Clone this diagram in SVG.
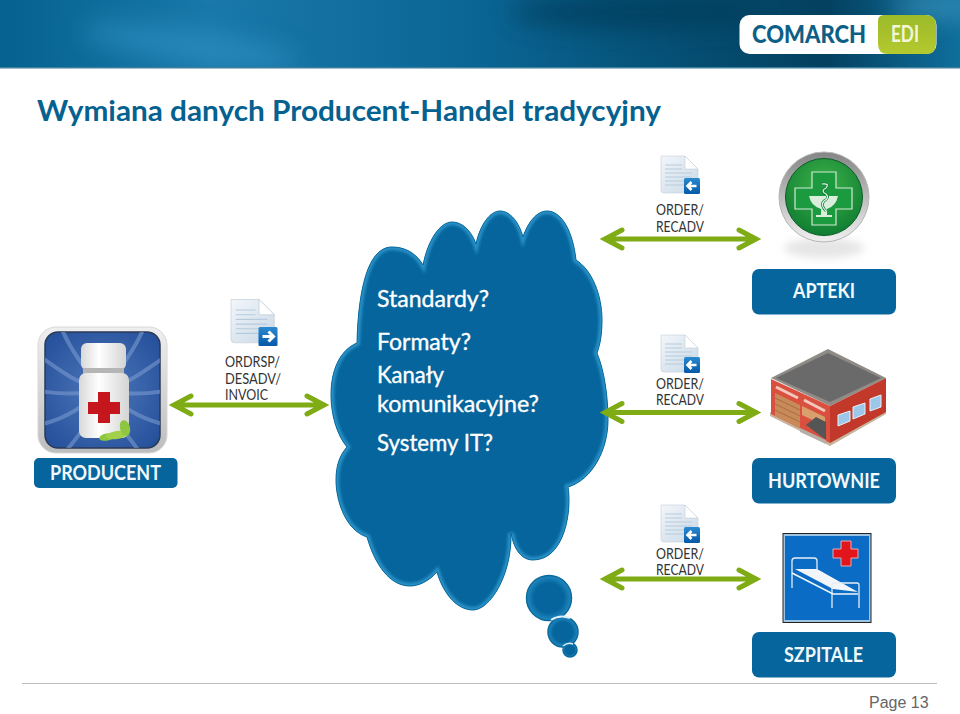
<svg xmlns="http://www.w3.org/2000/svg" xmlns:xlink="http://www.w3.org/1999/xlink" width="960" height="714" viewBox="0 0 960 714">
<style>
.t{font-family:Lato,"Noto Sans",sans-serif}
.lbl{font-size:14.5px;fill:#333}
.box{fill:#05659c}
.bt{font-weight:700;font-size:20.5px;fill:#f2f8fb}
.q{font-size:22.5px;fill:#fff;stroke:#fff;stroke-width:.35px}
.a{fill:none;stroke:#7fab14;stroke-width:5;stroke-linecap:round;stroke-linejoin:miter}
</style>
<defs>
<linearGradient id="hdr" x1="0" y1="0" x2="1" y2="0"><stop offset="0" stop-color="#05628f"/><stop offset=".22" stop-color="#1a78aa"/><stop offset=".5" stop-color="#0a6594"/><stop offset=".72" stop-color="#054e72"/><stop offset=".86" stop-color="#04405f"/><stop offset="1" stop-color="#0f6f9c"/></linearGradient>
<linearGradient id="edi" x1="0" y1="0" x2="0" y2="1"><stop offset="0" stop-color="#9cba2a"/><stop offset="1" stop-color="#b4c92e"/></linearGradient>
<linearGradient id="paper" x1="0" y1="0" x2="1" y2="1"><stop offset="0" stop-color="#f2f6fa"/><stop offset="1" stop-color="#c9d8e6"/></linearGradient>
<linearGradient id="tile" x1="0" y1="0" x2="0" y2="1"><stop offset="0" stop-color="#2a8ad0"/><stop offset="1" stop-color="#0458a8"/></linearGradient>
<linearGradient id="frame" x1="0" y1="0" x2="0" y2="1"><stop offset="0" stop-color="#efefef"/><stop offset="1" stop-color="#bdbdbd"/></linearGradient>
<radialGradient id="sw" cx=".5" cy=".5" r=".75"><stop offset="0" stop-color="#4f78ba"/><stop offset="1" stop-color="#1f4a96"/></radialGradient>
<radialGradient id="grn" cx=".5" cy=".35" r=".7"><stop offset="0" stop-color="#3db24a"/><stop offset="1" stop-color="#0d7a30"/></radialGradient>
<linearGradient id="ring" x1="0" y1="0" x2="0" y2="1"><stop offset="0" stop-color="#858585"/><stop offset=".5" stop-color="#bcbcbc"/><stop offset="1" stop-color="#f0f0f0"/></linearGradient>
<linearGradient id="bot" x1="0" y1="0" x2="1" y2="0"><stop offset="0" stop-color="#d8d8d8"/><stop offset=".4" stop-color="#fff"/><stop offset="1" stop-color="#d4d4d4"/></linearGradient>
<radialGradient id="bub" cx=".5" cy=".5" r=".5"><stop offset=".65" stop-color="#05659c"/><stop offset="1" stop-color="#2389c2"/></radialGradient>
<filter id="b2" x="-10%" y="-10%" width="120%" height="120%"><feGaussianBlur stdDeviation="1.6"/></filter>
<filter id="b4" x="-30%" y="-30%" width="160%" height="160%"><feGaussianBlur stdDeviation="4"/></filter>
<filter id="b12" x="-50%" y="-100%" width="200%" height="300%"><feGaussianBlur stdDeviation="12"/></filter>
<clipPath id="hc"><rect width="960" height="68"/></clipPath>
<path id="cl" d="M357 343C358 300 365 247 392 247C405 247 416 253 423 265C428 240 440 222 452 222C462 222 471 230 476 244C480 225 490 211 500 211C510 211 519 222 523 237C528 222 537 211 547 211C562 211 573 232 576 260C592 270 602 295 602 320C602 335 600 345 597 353C604 370 608 395 608 420C608 450 592 480 568 487C572 510 565 560 533 560C522 560 514 550 511 533C512 575 490 610 473 610C455 610 442 590 437 572C428 582 418 586 410 586C390 586 375 565 367 537C345 530 336 500 336 480C336 465 340 455 347 447C337 435 331 415 331 395C331 370 340 350 357 343Z"/>
<clipPath id="clc"><use xlink:href="#cl"/></clipPath>
<clipPath id="tilec"><rect x="45" y="332" width="115" height="116" rx="13"/></clipPath>
<g id="doc">
<path d="M0 0H24L37 13V37H3Q0 37 0 34Z" fill="url(#paper)" stroke="#c5d0da" stroke-width=".6"/>
<path d="M24 0V13H37Z" fill="#fff" stroke="#b8c6d2" stroke-width=".5"/>
<path d="M4 9H21M4 13H21M4 17H31M4 21H31M4 25H28M4 29H28" stroke="#b7cbdd" stroke-width="1" fill="none"/>
</g>
<g id="bl"><rect width="16" height="16" rx="1.5" fill="url(#tile)"/><path d="M3.500 8H12.500M7.500 4L3.500 8L7.500 12" fill="none" stroke="#fff" stroke-width="2.600"/></g>
<g id="br"><rect width="19" height="19" rx="1.500" fill="url(#tile)"/><path d="M4 9.500H15M10 4.500L15 9.500L10 14.500" fill="none" stroke="#fff" stroke-width="3"/></g>
<g id="dbl"><use xlink:href="#doc"/><use xlink:href="#bl" x="23" y="22"/></g>
</defs>

<g id="header">
<rect width="960" height="68" fill="url(#hdr)"/>
<g clip-path="url(#hc)">
<ellipse cx="640" cy="12" rx="130" ry="18" fill="#033a58" opacity=".7" filter="url(#b12)"/>
<ellipse cx="190" cy="46" rx="110" ry="16" fill="#3093c4" opacity=".6" filter="url(#b12)" transform="rotate(8 190 46)"/>
<ellipse cx="940" cy="6" rx="50" ry="12" fill="#3a93bb" opacity=".8" filter="url(#b12)"/>
</g>
<rect y="67" width="960" height="1.500" fill="#3e7f9e"/>
<rect x="739.500" y="15" width="197" height="39" rx="10" fill="#fff"/>
<path d="M884 15H926Q936 15 936 25V44Q936 54 926 54H888Q878 54 878 44V21Q878 15 884 15Z" fill="url(#edi)"/>
<text class="t" x="752" y="43" font-size="25.500" font-weight="900" fill="#0d5f86" textLength="114" lengthAdjust="spacingAndGlyphs">COMARCH</text>
<text class="t" x="891" y="42" font-size="22" font-weight="700" fill="#f2f6d8" textLength="28" lengthAdjust="spacingAndGlyphs">EDI</text>
</g>

<text id="title" class="t" x="37" y="121" font-size="28.500" font-weight="700" fill="#05618f" textLength="624" lengthAdjust="spacingAndGlyphs">Wymiana danych Producent-Handel tradycyjny</text>

<g id="cloud">
<use xlink:href="#cl" fill="#05659c"/>
<g clip-path="url(#clc)"><use xlink:href="#cl" fill="none" stroke="#2b93c9" stroke-width="6" filter="url(#b2)"/></g>
<use xlink:href="#cl" fill="none" stroke="#0b6a9c" stroke-width="1"/>
<g stroke="#0b6a9c" stroke-width="1.500" fill="url(#bub)">
<circle cx="549" cy="598" r="22.500"/>
<circle cx="563" cy="632" r="15"/>
<circle cx="570" cy="650" r="7"/>
</g>
<path d="M551 620Q560 614 570 618" fill="none" stroke="#dff0f9" stroke-width="2"/>
<path d="M563 646Q568 642 573 644" fill="none" stroke="#dff0f9" stroke-width="1.500"/>
<text class="t q" x="377" y="307" textLength="112" lengthAdjust="spacingAndGlyphs">Standardy?</text>
<text class="t q" x="377" y="350" textLength="94" lengthAdjust="spacingAndGlyphs">Formaty?</text>
<text class="t q" x="377" y="383" textLength="67" lengthAdjust="spacingAndGlyphs">Kanały</text>
<text class="t q" x="377" y="412" textLength="162" lengthAdjust="spacingAndGlyphs">komunikacyjne?</text>
<text class="t q" x="377" y="451" textLength="116" lengthAdjust="spacingAndGlyphs">Systemy IT?</text>
</g>

<g id="connectors">
<path class="a" d="M176 405H322M191 396L174 405L191 414M307 396L324 405L307 414"/>
<path class="a" d="M607 239H754M622 230L605 239L622 248M739 230L756 239L739 248"/>
<path class="a" d="M607 412.500H754M622 403.500L605 412.500L622 421.500M739 403.500L756 412.500L739 421.500"/>
<path class="a" d="M607 579H754M622 570L605 579L622 588M739 570L756 579L739 588"/>
</g>

<g id="producent">
<rect x="38" y="327" width="129" height="126" rx="18" fill="url(#frame)" stroke="#d8d8d8"/>
<rect x="45" y="332" width="115" height="116" rx="13" fill="url(#sw)" stroke="#2b3a55" stroke-width="1.500"/>
<g clip-path="url(#tilec)" fill="none" stroke="#7d9fd2" stroke-width="4" opacity=".55">
<path d="M103 390C85 370 70 350 60 325M103 390C78 385 60 370 38 355M103 390C80 395 60 395 35 390M103 390C85 405 65 420 38 425M103 390C95 415 80 435 60 458M103 390C120 370 135 350 145 325M103 390C128 385 145 370 168 355M103 390C125 395 145 395 170 390M103 390C120 405 140 420 168 425M103 390C112 415 125 435 145 458"/>
</g>
<rect x="81" y="343" width="45" height="27" rx="6" fill="url(#bot)"/>
<rect x="83" y="368" width="41" height="6" fill="#b5b5b5"/>
<rect x="79" y="373" width="50" height="65" rx="7" fill="url(#bot)"/>
<path d="M98 392H110V402H120V414H110V423H98V414H88V402H98Z" fill="#c4161c"/>
<ellipse cx="107" cy="437" rx="8" ry="3.500" fill="#8fc63f" transform="rotate(-10 107 437)"/>
<ellipse cx="117" cy="435" rx="11" ry="4" fill="#a2d149" transform="rotate(-8 117 435)"/>
<ellipse cx="125" cy="428" rx="5" ry="8" fill="#8fc63f" transform="rotate(-15 125 428)"/>
<rect class="box" x="34" y="458" width="143.500" height="30" rx="5"/>
<text class="t bt" x="50" y="480" textLength="111" lengthAdjust="spacingAndGlyphs">PRODUCENT</text>
</g>

<g id="doc-producent">
<use xlink:href="#doc" transform="translate(231 299.500) scale(1.170)"/>
<use xlink:href="#br" x="258.500" y="327"/>
<text class="t lbl" x="225" y="367" textLength="55" lengthAdjust="spacingAndGlyphs">ORDRSP/</text>
<text class="t lbl" x="225" y="384" textLength="56" lengthAdjust="spacingAndGlyphs">DESADV/</text>
<text class="t lbl" x="225" y="400" textLength="43" lengthAdjust="spacingAndGlyphs">INVOIC</text>
</g>

<g id="doc-apteki">
<use xlink:href="#dbl" x="661" y="156"/>
<text class="t lbl" x="656" y="215" textLength="48" lengthAdjust="spacingAndGlyphs">ORDER/</text>
<text class="t lbl" x="656" y="232" textLength="48" lengthAdjust="spacingAndGlyphs">RECADV</text>
</g>
<g id="doc-hurtownie">
<use xlink:href="#dbl" x="661" y="335"/>
<text class="t lbl" x="656" y="389" textLength="48" lengthAdjust="spacingAndGlyphs">ORDER/</text>
<text class="t lbl" x="656" y="405" textLength="48" lengthAdjust="spacingAndGlyphs">RECADV</text>
</g>
<g id="doc-szpitale">
<use xlink:href="#dbl" x="661" y="505"/>
<text class="t lbl" x="656" y="559" textLength="48" lengthAdjust="spacingAndGlyphs">ORDER/</text>
<text class="t lbl" x="656" y="575" textLength="48" lengthAdjust="spacingAndGlyphs">RECADV</text>
</g>

<g id="apteki">
<ellipse cx="824" cy="248" rx="40" ry="10" fill="#aaa" opacity=".3" filter="url(#b4)"/>
<circle cx="824" cy="197" r="45" fill="url(#ring)" stroke="#b5b5b5"/>
<circle cx="824" cy="197" r="38.500" fill="url(#grn)" stroke="#0a5c26"/>
<path d="M812 172H836V188H852V209H836V225H812V209H795V188H812Z" fill="#1c9a40" stroke="#cfe9d2" stroke-width="1.200"/>
<path d="M809 196H838Q836 206 827 209V215H832V217H816V215H821V209Q811 206 809 196Z" fill="#d9efdc"/>
<path d="M822 184Q830 183 826 188Q820 191 826 194Q830 198 824 201Q820 205 826 211" fill="none" stroke="#0f7d33" stroke-width="2.600"/>
<path d="M822 184Q830 183 826 188Q820 191 826 194Q830 198 824 201Q820 205 826 211" fill="none" stroke="#e7f5e9" stroke-width="1.200"/>
<rect class="box" x="752" y="269" width="144" height="45.500" rx="7"/>
<text class="t bt" x="793" y="298" textLength="62" lengthAdjust="spacingAndGlyphs">APTEKI</text>
</g>

<g id="hurtownie">
<path d="M770 416L830 446L886 414L886 410L830 441L770 412Z" fill="#c7b49c"/>
<path d="M771 378L828 349L886 378L830 406Z" fill="#8f8b86"/>
<path d="M776 378L828 353L881 378L830 402Z" fill="#6a6a6a"/>
<path d="M771 379L830 406V443L771 414Z" fill="#d9503f"/>
<path d="M830 406L886 378V412L830 443Z" fill="#c2392c"/>
<path d="M775 393L800 405V428L775 416Z" fill="#c98a5a"/>
<path d="M775 398L800 410M775 404L800 416M775 410L800 422" stroke="#a86d42" stroke-width="1"/>
<path d="M776 387L798 398" stroke="#f3c7bd" stroke-width="3"/>
<path d="M804 400L825 411" stroke="#f3c7bd" stroke-width="3"/>
<path d="M802 406L825 417V426L802 415Z" fill="#d9a06d"/>
<path d="M806 425L816 417L826 422V440Z" fill="#555"/>
<path d="M800 428L826 440V444L800 432Z" fill="#b5afa8"/>
<path d="M838 415L850 411V421L838 426ZM853 407L865 403V414L853 419ZM870 399L881 395V407L870 411Z" fill="#9cc7e8" stroke="#e8f1f7"/>
<rect class="box" x="752" y="458" width="144" height="45.500" rx="7"/>
<text class="t bt" x="768" y="488" textLength="112" lengthAdjust="spacingAndGlyphs">HURTOWNIE</text>
</g>

<g id="szpitale">
<rect x="783" y="533.500" width="88" height="89" fill="#9fc4e2" stroke="#222" stroke-width="1"/>
<rect x="785" y="536" width="84" height="84" fill="#0a6cc4"/>
<path d="M841 541H851V549H858V558H851V566H841V558H833V549H841Z" fill="#e2141c" stroke="#e9a9ae" stroke-width="1"/>
<path d="M792 588V561Q792 558 795 558H814Q817 558 817 561V569" fill="none" stroke="#e6eef6" stroke-width="1.300"/>
<path d="M795 569H817L858 592L833 589Z" fill="#f2f6fa"/>
<path d="M792 573L833 594H858" stroke="#f2f6fa" stroke-width="1.600" fill="none"/>
<path d="M832 608V585Q832 583 834 583H857Q859 583 859 585V608" fill="none" stroke="#e6eef6" stroke-width="1.300"/>
<rect class="box" x="752" y="632" width="144" height="45.500" rx="7"/>
<text class="t bt" x="784" y="662" textLength="79" lengthAdjust="spacingAndGlyphs">SZPITALE</text>
</g>

<g id="footer">
<rect x="22" y="683" width="915" height="1" fill="#bdbdbd"/>
<text x="869" y="708" font-family="Liberation Sans,Arial,sans-serif" font-size="16" fill="#666">Page 13</text>
</g>
</svg>
